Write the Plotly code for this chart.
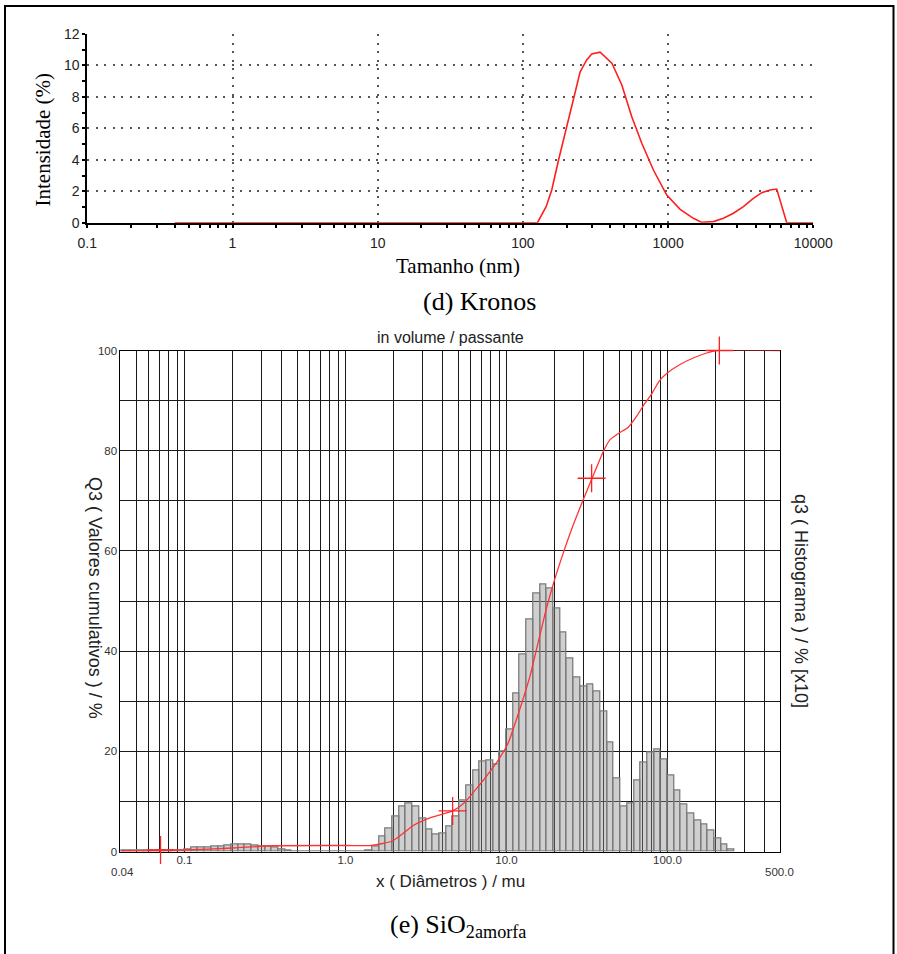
import math
import plotly.graph_objects as go

# ---------------- (d) Kronos : DLS intensity distribution ----------------
kronos_size_nm = [0.4, 1, 10, 100, 126, 144.5, 158, 176, 195.6, 223, 248, 275, 298, 340,
                  410, 480, 562, 659, 792, 979, 1210, 1494, 1706, 2051, 2404, 2818, 3300,
                  3865, 4414, 5036, 5598, 6561, 10000]
kronos_intensity = [0, 0, 0, 0, 0, 1.02, 2.08, 3.99, 5.69, 7.8, 9.6, 10.35, 10.73, 10.84,
                    10.14, 8.76, 6.74, 5.05, 3.35, 1.76, 0.85, 0.28, 0.02, 0.07, 0.28, 0.6, 1.02,
                    1.55, 1.91, 2.08, 2.14, 0, 0]
kronos_x_ticks = [0.1, 1, 10, 100, 1000, 10000]
kronos_x_labels = ["0.1", "1", "10", "100", "1000", "10000"]
kronos_y_ticks = [0, 2, 4, 6, 8, 10, 12]
kronos_y_labels = ["0", "2", "4", "6", "8", "10", "12"]

# ---------------- (e) SiO2 amorfa : laser granulometry ----------------
bins_per_decade = 24
first_bin = -34          # index of the first histogram class (lower edge 10**(k/24) mu)
q3_hist = [0.3, 0.3, 0.3, 0.3, 0.3, 0.3, 0.3, 0.3, 0.3, 0.3,       # k = -34 .. -25
           0.4, 0.7, 0.7, 0.8, 1.0, 1.0, 1.2, 1.3, 1.3, 1.3,       # k = -24 .. -15
           1.2, 1.0, 1.0, 0.8, 0.5, 0.2, 0.0, 0.0, 0.0, 0.0,       # k = -14 .. -5
           0.0, 0.0, 0.0, 0.0, 0.0, 0.0, 0.0, 0.2, 1.0, 3.0,       # k = -4 .. 5
           4.5, 6.9, 9.0, 9.5, 8.9, 6.5, 4.3, 3.4, 3.6, 5.0,       # k = 6 .. 15
           6.9, 10.1, 13.1, 16.1, 17.9, 18.1, 17.4, 20.0, 24.3, 31.5,   # k = 16 .. 25
           39.3, 46.4, 51.4, 53.3, 52.5, 48.5, 43.8, 38.6, 34.7, 33.0,  # k = 26 .. 35
           33.4, 31.9, 28.0, 21.7, 14.5, 8.9, 9.6, 14.2, 17.7, 19.7,    # k = 36 .. 45
           20.3, 18.3, 15.1, 12.1, 9.3, 7.5, 6.2, 5.3, 4.2, 2.5,        # k = 46 .. 55
           1.4, 0.5]                                                     # k = 56 .. 57

q3_size = [0.04, 0.1, 0.2, 0.354, 1.0, 1.45, 1.98, 2.64, 3.35, 4.63, 5.5, 6.3, 7.5, 9.0,
           10.2, 11.3, 12.7, 14.0, 15.4, 17.8, 19.7, 22.5, 26.0, 29.7, 33.8, 37.2, 40.0,
           44.0, 49.9, 57.1, 64.4, 72.5, 79.3, 88.9, 98.9, 119.6, 144.6, 175.3, 202, 500]
q3_cum = [0.1, 0.3, 0.7, 1.15, 1.2, 1.2, 2.2, 5.2, 6.7, 8.1, 9.8, 12.0, 15.0, 18.5,
          21.5, 25.5, 30.5, 35.0, 40.5, 48.8, 53.8, 59.5, 65.2, 69.9, 74.3, 77.5, 79.9,
          82.2, 83.5, 84.7, 86.9, 89.5, 91.2, 93.9, 95.4, 97.2, 98.5, 99.5, 100, 100]
marker_size = [0.071, 4.63, 33.8, 210]
marker_q3 = [0.3, 8.1, 74.5, 100]

sio2_x_min, sio2_x_max = 0.04, 500
sio2_x_ticks = [0.1, 1, 10, 100]
sio2_x_labels = ["0.1", "1.0", "10.0", "100.0"]
sio2_y_ticks = [0, 20, 40, 60, 80, 100]
sio2_y_labels = ["0", "20", "40", "60", "80", "100"]
sio2_y_minor = [10, 30, 50, 70, 90]

# ---------------- helpers ----------------
W, H = 897, 954
def px(x):
    return x / W
def py(y):
    return 1 - y / H

SANS = "Liberation Sans, Arial, sans-serif"
SERIF = "Liberation Serif, Times New Roman, serif"

kr_all = sorted({round(m * 10 ** e, 6) for e in range(-1, 4) for m in range(1, 10)} | {10000})
kr_minor = [v for v in kr_all if v not in kronos_x_ticks]
kr_y_minor = [v for v in range(0, 13) if v not in kronos_y_ticks]

sio2_minor = sorted(v for v in {round(m * 10 ** e, 6) for e in range(-2, 3) for m in range(2, 10)}
                    if sio2_x_min < v < sio2_x_max)

lx0, lx1 = math.log10(sio2_x_min), math.log10(sio2_x_max)
bar_centers = [(k + 0.5) / bins_per_decade for k in range(first_bin, first_bin + len(q3_hist))]

fig = go.Figure()

# Kronos curve
fig.add_trace(go.Scatter(x=kronos_size_nm, y=kronos_intensity, xaxis="x", yaxis="y",
                         mode="lines", line=dict(color="#ff1f1f", width=1.6),
                         hoverinfo="skip", showlegend=False))

# SiO2 histogram (bars on a log10-scaled linear axis)
fig.add_trace(go.Bar(x=bar_centers, y=q3_hist, width=1 / bins_per_decade,
                     xaxis="x2", yaxis="y2",
                     marker=dict(color="rgba(140,140,140,0.42)",
                                 line=dict(color="#7c7c7c", width=1.3)),
                     hoverinfo="skip", showlegend=False))
# cumulative curve
fig.add_trace(go.Scatter(x=q3_size, y=q3_cum, xaxis="x4", yaxis="y2", mode="lines",
                         line=dict(color="#ff3434", width=1.3, shape="spline", smoothing=0.6),
                         hoverinfo="skip", showlegend=False))
fig.add_trace(go.Scatter(x=marker_size, y=marker_q3, xaxis="x4", yaxis="y2", mode="markers",
                         marker=dict(symbol="cross-thin", size=20,
                                     line=dict(color="#ff2020", width=1.3)),
                         cliponaxis=False, hoverinfo="skip", showlegend=False))

top_xdom = [px(87.3), px(813.3)]
top_ydom = [py(222.7), py(34)]
bot_xdom = [px(120.4), px(780)]
bot_ydom = [py(851.5), py(350.5)]

dot = "2px,6.5px"
tickfont_top = dict(family=SANS, size=14, color="#222")
tickfont_bot = dict(family=SANS, size=11.5, color="#333")
grid_bot = dict(showgrid=True, gridcolor="#1a1a1a", gridwidth=1)
common = dict(automargin=False)

fig.update_layout(
    template="none",
    width=W, height=H, autosize=False, margin=dict(l=0, r=0, t=0, b=0, pad=0),
    paper_bgcolor="white", plot_bgcolor="rgba(0,0,0,0)", showlegend=False,
    bargap=0, font=dict(family=SANS, color="#222"),
    xaxis=dict(type="log", range=[-1, 4], domain=top_xdom, anchor="y",
               tickmode="array", tickvals=kronos_x_ticks, ticktext=kronos_x_labels,
               ticks="outside", ticklen=3, tickwidth=1.5, tickcolor="black",
               minor=dict(tickmode="array", tickvals=kr_minor, ticks="outside", ticklen=3,
                          tickwidth=1.5, tickcolor="black", showgrid=False),
               showgrid=True, gridcolor="#555", griddash=dot, gridwidth=1.6,
               showline=True, linecolor="black", linewidth=1.8, layer="below traces",
               zeroline=False, tickfont=tickfont_top, ticklabelstandoff=4, **common),
    xaxis3=dict(type="log", range=[-1, 4], domain=top_xdom, overlaying="x", anchor="y",
                tickmode="array", tickvals=kr_all, showticklabels=False,
                ticks="inside", ticklen=3, tickwidth=1.5, tickcolor="black",
                showgrid=False, showline=False, zeroline=False, **common),
    yaxis=dict(range=[0, 12], domain=top_ydom, anchor="x",
               tickmode="array", tickvals=kronos_y_ticks, ticktext=kronos_y_labels,
               ticks="outside", ticklen=3, tickwidth=1.5, tickcolor="black",
               minor=dict(tickmode="array", tickvals=kr_y_minor, ticks="outside", ticklen=3,
                          tickwidth=1.5, tickcolor="black", showgrid=False),
               showgrid=True, gridcolor="#555", griddash=dot, gridwidth=1.6,
               showline=True, linecolor="black", linewidth=1.8, layer="below traces",
               zeroline=False, tickfont=tickfont_top, **common),
    yaxis3=dict(range=[0, 12], domain=top_ydom, overlaying="y", anchor="x",
                tickmode="array", tickvals=list(range(0, 13)), showticklabels=False,
                ticks="inside", ticklen=3, tickwidth=1.5, tickcolor="black",
                showgrid=False, showline=False, zeroline=False, **common),
    # lower chart: linear axis in log10 units for the histogram classes
    xaxis2=dict(range=[lx0, lx1], domain=bot_xdom, anchor="y2",
                showticklabels=False, ticks="", showgrid=False, zeroline=False,
                showline=True, mirror=True, linecolor="black", linewidth=1,
                layer="below traces", **common),
    xaxis4=dict(type="log", range=[lx0, lx1], domain=bot_xdom, overlaying="x2", anchor="y2",
                tickmode="array", tickvals=sio2_x_ticks, ticktext=sio2_x_labels, ticks="",
                minor=dict(tickmode="array", tickvals=sio2_minor, ticks="", **grid_bot),
                showline=False, zeroline=False, tickfont=tickfont_bot, **grid_bot, **common),
    yaxis2=dict(range=[0, 100], domain=bot_ydom, anchor="x2",
                tickmode="array", tickvals=sio2_y_ticks, ticktext=sio2_y_labels, ticks="",
                minor=dict(tickmode="array", tickvals=sio2_y_minor, ticks="", **grid_bot),
                zeroline=False, showline=True, mirror=True, linecolor="black", linewidth=1,
                layer="below traces", tickfont=tickfont_bot, **grid_bot, **common),
)

ann = [
    dict(text="Intensidade (%)", x=px(42), y=py(139.5), textangle=-90,
         font=dict(family=SERIF, size=21, color="black")),
    dict(text="Tamanho (nm)", x=px(458.5), y=py(265.5),
         font=dict(family=SERIF, size=21, color="black")),
    dict(text="(d) Kronos", x=px(479), y=py(301),
         font=dict(family=SERIF, size=26, color="black")),
    dict(text="in volume / passante", x=px(451), y=py(337),
         font=dict(family=SANS, size=16, color="#222")),
    dict(text="Q3 ( Valores cumulativos ) / %", x=px(95), y=py(598), textangle=90,
         font=dict(family=SANS, size=18, color="#222")),
    dict(text="q3 ( Histograma ) / % [x10]", x=px(801), y=py(601), textangle=90,
         font=dict(family=SANS, size=18, color="#222")),
    dict(text="x ( Diâmetros ) / mu", x=px(450.5), y=py(881),
         font=dict(family=SANS, size=17, color="#222")),
    dict(text="0.04", x=px(123), y=py(872),
         font=dict(family=SANS, size=11.5, color="#333")),
    dict(text="500.0", x=px(779), y=py(872),
         font=dict(family=SANS, size=11.5, color="#333")),
    dict(text="(e) SiO<sub>2amorfa</sub>", x=px(458), y=py(926),
         font=dict(family=SERIF, size=26, color="black")),
]
for a in ann:
    a.update(xref="paper", yref="paper", showarrow=False, xanchor="center", yanchor="middle")
fig.update_layout(annotations=ann)

fig.add_shape(type="rect", xref="paper", yref="paper", x0=px(5), x1=px(893.5),
              y0=-0.05, y1=py(6), line=dict(color="black", width=2), fillcolor="rgba(0,0,0,0)")

fig.write_html("out.html", config={"responsive": False, "displayModeBar": False},
               post_script="document.documentElement.style.margin='0';"
                           "document.body.style.margin='0';"
                           "document.body.style.padding='0';"
                           "document.body.style.overflow='hidden';")
